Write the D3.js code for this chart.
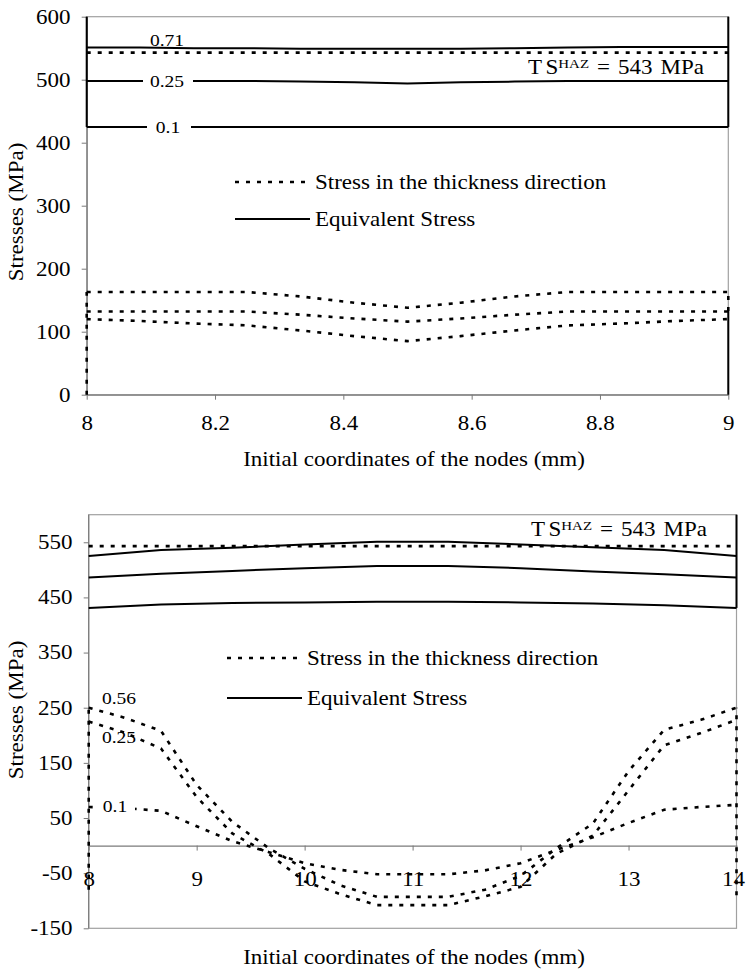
<html>
<head>
<meta charset="utf-8">
<title>Stresses along the nodes</title>
<script src="https://cdn.jsdelivr.net/npm/d3@7"></script>
<style>
body { margin:0; background:#fff; }
svg text { font-family: "Liberation Serif", "Times New Roman", serif; fill:#000; }
</style>
</head>
<body>
<svg id="chart" width="746" height="971" font-family="Liberation Serif"></svg>
<script>
// ---- top chart data (x = 8 .. 9 mm)
var topX = [8, 8.083, 8.167, 8.25, 8.333, 8.417, 8.5, 8.583, 8.667, 8.75, 8.833, 8.917, 9];
var topEq071 = [551, 551, 550, 550, 549, 549, 549, 549, 550, 551, 552, 552, 552];
var topEq025 = [498, 498, 498, 498, 497, 496, 494, 496, 497, 498, 498, 498, 498];
var topEq010 = [425, 425, 425, 425, 425, 425, 425, 425, 425, 425, 425, 425, 425];
var topTh1 = [163, 163, 163, 163, 156, 146, 138, 146, 156, 163, 163, 163, 163];
var topTh2 = [132, 132, 132, 132, 127, 121, 116, 121, 127, 132, 132, 132, 132];
var topTh3 = [120, 117, 113, 110, 102, 93, 85, 93, 102, 110, 113, 117, 120];
var topYTicks = [0, 100, 200, 300, 400, 500, 600];
var topXTicks = [8, 8.2, 8.4, 8.6, 8.8, 9];
// vertical bits at the ends of the series
var topEdgeSolidL = [425, 600];   // at x = 8
var topEdgeSolidR = [425, 600];   // at x = 9
var topEdgeSolidR2 = [0, 133];    // at x = 9
var topEdgeDashL = [0, 163];      // at x = 8
var topEdgeDashR = [133, 163];    // at x = 9

// ---- bottom chart data (x = 8 .. 14 mm)
var botEqX = [8, 8.67, 9.33, 10, 10.67, 11.33, 12, 12.67, 13.33, 14];
var botEqTop = [525, 536, 540, 546, 551, 551, 546, 541, 536, 525];
var botEqMid = [486, 493, 498, 503, 507, 507, 503, 497, 492, 486];
var botEqLow = [431, 437, 440, 441, 442, 442, 441, 439, 436, 431];
var botThX = [8, 8.33, 8.67, 9, 9.33, 9.67, 10, 10.33, 10.67, 11, 11.33, 11.67, 12, 12.33, 12.67, 13, 13.33, 13.67, 14];
var botTh056 = [250, 232, 208, 110, 43, -5, -42, -72, -93, -93, -93, -80, -55, -5, 40, 135, 210, 228, 250];
var botTh025 = [225, 205, 176, 88, 22, -15, -65, -88, -108, -108, -108, -92, -75, -15, 18, 100, 182, 204, 228];
var botTh010 = [70, 68, 63, 35, 8, -12, -32, -44, -52, -52, -52, -45, -32, -8, 15, 41, 65, 70, 74];
var botYTicks = [550, 450, 350, 250, 150, 50, -50, -150];
var botXTicks = [8, 9, 10, 11, 12, 13, 14];
var botEdgeDashL = [-80, 250];    // at x = 8
var botEdgeDashR = [-90, 250];    // at x = 14
var botEdgeSolidR = [431, 600];   // at x = 14

var TS = 543;

var svg = d3.select("#chart");
var SX = 1.15; // scan text is stretched sideways
var AXIS = "#7a7a7a";

function label(g, x, y, s, anchor, size) {
    return g.append("text")
        .attr("transform", "translate(" + x + "," + y + ") scale(" + SX + ",1)")
        .attr("text-anchor", anchor || "start")
        .attr("dy", "0.35em")
        .style("font-size", (size || 20) + "px")
        .text(s);
}

function series(g, xs, ys, x, y, dashed) {
    var line = d3.line().x(function(d, i) { return x(xs[i]); }).y(function(d) { return y(d); });
    g.append("path").datum(ys)
        .attr("d", line)
        .attr("fill", "none")
        .attr("stroke", "#000")
        .attr("stroke-width", dashed ? 2.6 : 2)
        .attr("stroke-dasharray", dashed ? "4,7" : null);
}

function edge(g, xv, ys, x, y, dashed) {
    series(g, [xv, xv], ys, x, y, dashed);
}

function tsLabel(g, x, y) {
    var t = g.append("text")
        .attr("transform", "translate(" + x + "," + y + ") scale(" + SX + ",1)")
        .attr("dy", "0.35em")
        .style("font-size", "20px");
    t.append("tspan").attr("letter-spacing", "3px").text("T");
    t.append("tspan").text("S");
    t.append("tspan").style("font-size", "13px").attr("dy", "-6").text("HAZ");
    t.append("tspan").attr("dy", "6").attr("word-spacing", "2px").text(" = 543 MPa");
}

function styleAxis(g) {
    g.attr("font-family", null).attr("font-size", null);
    g.select(".domain").attr("stroke", AXIS).attr("stroke-width", 1.2);
    g.selectAll(".tick line").attr("stroke", AXIS);
    g.selectAll("text").style("font-size", "20px")
        .attr("transform", "scale(" + SX + ",1)");
}

// ================= TOP CHART =================
var tx = d3.scaleLinear().domain([8, 9]).range([86.7, 728.3]);
var ty = d3.scaleLinear().domain([0, 600]).range([394.7, 16.7]);
var topG = svg.append("g");

topG.append("rect")
    .attr("x", tx(8)).attr("y", ty(600))
    .attr("width", tx(9) - tx(8)).attr("height", ty(0) - ty(600))
    .attr("fill", "none").attr("stroke", "#a0a0a0").attr("stroke-width", 1.2);

var tyAxis = topG.append("g").attr("transform", "translate(" + tx(8) + ",0)")
    .call(d3.axisLeft(ty).tickValues(topYTicks).tickSize(5).tickSizeOuter(0).tickPadding(9)
        .tickFormat(function(d) { return String(d); }));
styleAxis(tyAxis);

var txAxis = topG.append("g").attr("transform", "translate(0," + ty(0) + ")")
    .call(d3.axisBottom(tx).tickValues(topXTicks).tickSize(5).tickSizeOuter(0).tickFormat(d3.format("~g")));
styleAxis(txAxis);
txAxis.selectAll("text").attr("y", 28).attr("dy", "0.35em");

series(topG, topX, topEq071, tx, ty, false);
series(topG, topX, topEq025, tx, ty, false);
series(topG, topX, topEq010, tx, ty, false);
series(topG, topX, topTh1, tx, ty, true);
series(topG, topX, topTh2, tx, ty, true);
series(topG, topX, topTh3, tx, ty, true);
edge(topG, 8, topEdgeSolidL, tx, ty, false);
edge(topG, 9, topEdgeSolidR, tx, ty, false);
edge(topG, 9, topEdgeSolidR2, tx, ty, false);
edge(topG, 8, topEdgeDashL, tx, ty, true);
edge(topG, 9, topEdgeDashR, tx, ty, true);
series(topG, [8, 9], [TS, TS], tx, ty, true);

// line labels
topG.append("rect").attr("x", 143).attr("y", ty(498) - 6).attr("width", 50).attr("height", 12).attr("fill", "#fff");
topG.append("rect").attr("x", 147).attr("y", ty(425) - 6).attr("width", 44).attr("height", 12).attr("fill", "#fff");
label(topG, 167, 40, "0.71", "middle", 17);
label(topG, 167, ty(498), "0.25", "middle", 17);
label(topG, 168, ty(425), "0.1", "middle", 17);
tsLabel(topG, 528, 67);

// legend
topG.append("line").attr("x1", 235).attr("x2", 310).attr("y1", 182).attr("y2", 182)
    .attr("stroke", "#000").attr("stroke-width", 2.6).attr("stroke-dasharray", "4,7");
label(topG, 315, 182, "Stress in the thickness direction");
topG.append("line").attr("x1", 235).attr("x2", 310).attr("y1", 219).attr("y2", 219)
    .attr("stroke", "#000").attr("stroke-width", 2);
label(topG, 315, 219, "Equivalent Stress");

label(topG, 414, 459, "Initial coordinates of the nodes (mm)", "middle");
topG.append("text")
    .attr("transform", "translate(16,212) rotate(-90) scale(" + SX + ",1)")
    .attr("text-anchor", "middle").attr("dy", "0.35em")
    .style("font-size", "20px").text("Stresses (MPa)");

// ================= BOTTOM CHART =================
var bx = d3.scaleLinear().domain([8, 14]).range([88.7, 736.5]);
var by = d3.scaleLinear().domain([-150, 600]).range([928.3, 514.7]);
var botG = svg.append("g");

botG.append("rect")
    .attr("x", bx(8)).attr("y", by(600))
    .attr("width", bx(14) - bx(8)).attr("height", by(-150) - by(600))
    .attr("fill", "none").attr("stroke", "#a0a0a0").attr("stroke-width", 1.2);

var byAxis = botG.append("g").attr("transform", "translate(" + bx(8) + ",0)")
    .call(d3.axisLeft(by).tickValues(botYTicks).tickSize(5).tickSizeOuter(0).tickPadding(9)
        .tickFormat(function(d) { return String(d); }));
styleAxis(byAxis);
byAxis.select(".domain").attr("d", "M0," + by(600) + "V" + by(-150));

var bxAxis = botG.append("g").attr("transform", "translate(0," + by(0) + ")")
    .call(d3.axisBottom(bx).tickValues(botXTicks).tickSize(5).tickSizeOuter(0)
        .tickFormat(function(d) { return String(d); }));
styleAxis(bxAxis);
bxAxis.selectAll("text").attr("y", 33).attr("dy", "0.35em");
// last label sits right at the chart edge
bxAxis.selectAll("text").filter(function(d) { return d === 14; }).attr("x", -3);

series(botG, botEqX, botEqTop, bx, by, false);
series(botG, botEqX, botEqMid, bx, by, false);
series(botG, botEqX, botEqLow, bx, by, false);
series(botG, botThX, botTh056, bx, by, true);
series(botG, botThX, botTh025, bx, by, true);
series(botG, botThX, botTh010, bx, by, true);
edge(botG, 8, botEdgeDashL, bx, by, true);
edge(botG, 14, botEdgeDashR, bx, by, true);
edge(botG, 14, botEdgeSolidR, bx, by, false);
series(botG, [8, 14], [TS, TS], bx, by, true);

botG.append("rect").attr("x", 95).attr("y", 797).attr("width", 40).attr("height", 18).attr("fill", "#fff");
label(botG, 119, 698, "0.56", "middle", 17);
label(botG, 119, 737, "0.25", "middle", 17);
label(botG, 115, 806, "0.1", "middle", 17);
tsLabel(botG, 531, 529);

botG.append("line").attr("x1", 227).attr("x2", 302).attr("y1", 658).attr("y2", 658)
    .attr("stroke", "#000").attr("stroke-width", 2.6).attr("stroke-dasharray", "4,7");
label(botG, 307, 658, "Stress in the thickness direction");
botG.append("line").attr("x1", 227).attr("x2", 302).attr("y1", 698).attr("y2", 698)
    .attr("stroke", "#000").attr("stroke-width", 2);
label(botG, 307, 698, "Equivalent Stress");

label(botG, 414, 957, "Initial coordinates of the nodes (mm)", "middle");
botG.append("text")
    .attr("transform", "translate(16,710) rotate(-90) scale(" + SX + ",1)")
    .attr("text-anchor", "middle").attr("dy", "0.35em")
    .style("font-size", "20px").text("Stresses (MPa)");
</script>
</body>
</html>
